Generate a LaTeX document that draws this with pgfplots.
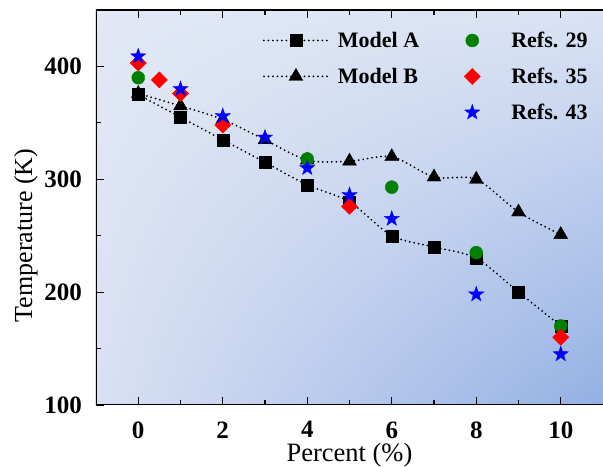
\documentclass[border=0pt]{standalone}
\usepackage{fontspec}
\setmainfont{Liberation Serif}
\usepackage{pgfplots}
\pgfplotsset{compat=1.18}
\usetikzlibrary{calc,shadings}
\definecolor{bgUL}{HTML}{E2E8F5}
\definecolor{bgUR}{HTML}{DAE3F4}
\definecolor{bgLL}{HTML}{D9E1F3}
\definecolor{bgLR}{HTML}{93B0E3}
\definecolor{mgreen}{HTML}{008000}
\pgfdeclareplotmark{fstar}{%
  \pgfpathmoveto{\pgfpointpolar{90}{\pgfplotmarksize}}%
  \pgfpathlineto{\pgfpointpolar{126}{0.4\pgfplotmarksize}}%
  \pgfpathlineto{\pgfpointpolar{162}{\pgfplotmarksize}}%
  \pgfpathlineto{\pgfpointpolar{198}{0.4\pgfplotmarksize}}%
  \pgfpathlineto{\pgfpointpolar{234}{\pgfplotmarksize}}%
  \pgfpathlineto{\pgfpointpolar{270}{0.4\pgfplotmarksize}}%
  \pgfpathlineto{\pgfpointpolar{306}{\pgfplotmarksize}}%
  \pgfpathlineto{\pgfpointpolar{342}{0.4\pgfplotmarksize}}%
  \pgfpathlineto{\pgfpointpolar{18}{\pgfplotmarksize}}%
  \pgfpathlineto{\pgfpointpolar{54}{0.4\pgfplotmarksize}}%
  \pgfpathclose
  \pgfusepathqfillstroke}
\pgfplotsset{
  lineleg/.style={legend image code/.code={%
    \path[draw=none,fill=none] (0pt,-5pt) rectangle (72pt,5pt);%
    \draw[##1, mark indices={2}] plot coordinates {(0pt,0pt) (32pt,0pt) (64pt,0pt)};%
    }},
  markleg/.style={legend image code/.code={%
    \path[draw=none,fill=none] (0pt,-5pt) rectangle (45pt,5pt);%
    \draw[##1] plot coordinates {(8pt,0pt)};%
    }},
  mA/.style={black, line width=2pt, line cap=round, dash pattern=on 0pt off 4.5pt,
    mark=square*, mark size=6pt, mark options={solid, line width=0.4pt}},
  mB/.style={black, line width=2pt, line cap=round, dash pattern=on 0pt off 4.5pt,
    mark=triangle*, mark size=8pt, mark options={solid, line width=0.4pt}},
  r29/.style={mgreen, mark=*, mark size=6.5pt, mark options={solid, line width=0.4pt}},
  r35/.style={red, mark=square*, mark size=5.7pt, mark options={solid, rotate=45, line width=0.4pt}},
  r43/.style={blue, mark=fstar, mark size=8pt, mark options={solid, line width=0.4pt}},
}
\begin{document}
\begin{tikzpicture}
\begin{axis}[
  scale only axis, width=507pt, height=395pt,
  xmin=-1, xmax=11, ymin=100, ymax=450,
  xtick={0,2,...,10}, minor xtick={1,3,...,9},
  ytick={100,200,300,400}, minor ytick={150,250,350},
  ytick pos=left, xtick pos=both,
  tick align=inside, major tick length=8pt, minor tick length=5pt,
  every tick/.style={black, line width=1.2pt},
  axis line style={draw=none},
  axis background/.style={shade, upper left=bgUL, upper right=bgUR, lower left=bgLL, lower right=bgLR},
  ticklabel style={font=\fontsize{25}{27}\selectfont\bfseries},
  /pgf/number format/assume math mode=true,
  xticklabel style={yshift=-13pt},
  yticklabel style={xshift=-10.5pt},
  xlabel={Percent (\%)}, ylabel={Temperature (K)},
  xlabel style={font=\fontsize{26.5}{28}\selectfont, yshift=2pt},
  ylabel style={font=\fontsize{26}{28}\selectfont, yshift=0pt, xshift=-28pt},
  legend columns=2,
  legend cell align=left,
  legend style={draw=none, fill=none, at={(rel axis cs:0.98,0.955)}, anchor=north east,
    font=\fontsize{22}{24}\selectfont\bfseries, row sep=15pt,
    /tikz/every even column/.append style={column sep=43pt},
    /tikz/every odd column/.append style={column sep=0pt}},
]
\draw[black, line width=1.3pt] (rel axis cs:1,1) -- (rel axis cs:0,1) -- (rel axis cs:0,0) -- (rel axis cs:1,0);
\addplot[mA, smooth, forget plot] coordinates {
 (0,375) (1,355) (2,335) (3,315) (4,295) (5,280) (6,250) (7,240) (8,230) (9,200) (10,170)};
\addplot[mB, smooth, forget plot] coordinates {
 (0,376) (1,365) (2,353) (3,335) (4,317) (5,316) (6,320) (7,302) (8,300) (9,271) (10,251)};
\addplot[r29, only marks, forget plot] coordinates {
 (0,390) (4,318) (6,293) (8,235) (10,170)};
\addplot[r35, only marks, forget plot] coordinates {
 (0,403) (0.5,388) (1,376) (2,348) (5,276) (10,160)};
\addplot[r43, only marks, forget plot] coordinates {
 (0,409) (1,380) (2,356) (3,337) (4,310) (5,286) (6,265) (8,198) (10,145)};
\addlegendimage{mA, lineleg}
\addlegendentry{Model A}
\addlegendimage{r29, markleg}
\addlegendentry{Refs. 29}
\addlegendimage{mB, lineleg}
\addlegendentry{Model B}
\addlegendimage{r35, markleg}
\addlegendentry{Refs. 35}
\addlegendimage{empty legend}
\addlegendentry{}
\addlegendimage{r43, markleg}
\addlegendentry{Refs. 43}
\end{axis}
\pgfresetboundingbox
\path ($(current axis.south west)+(-96pt,-62pt)$) rectangle ($(current axis.north east)+(0pt,10pt)$);
\end{tikzpicture}
\end{document}
